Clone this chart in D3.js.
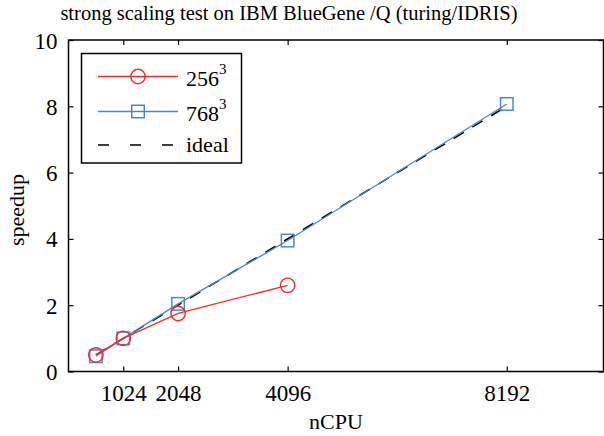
<!DOCTYPE html>
<html><head><meta charset="utf-8">
<script src="https://cdn.jsdelivr.net/npm/d3@7"></script>
<style>body{margin:0;background:#fff;} text{font-family:"Liberation Serif","Times New Roman",serif;fill:#000;}</style>
</head><body><svg id="c" width="604" height="436"></svg>
<script>
const ncpu256 = [512, 1024, 2048, 4096];
const speedup256 = [0.5, 1.0, 1.75, 2.6];
const ncpu768 = [512, 1024, 2048, 4096, 8192];
const speedup768 = [0.46, 1.0, 2.04, 3.95, 8.07];
const ncpuIdeal = [512, 8192];
const speedupIdeal = [0.5, 8];
const xTicks = [1024, 2048, 4096, 8192];
const yTicks = [0, 2, 4, 6, 8, 10];
const seriesNames = ["256", "768", "ideal"];

const red = "#ee2c2c", blue = "#4a89c8";
const svg = d3.select("#c");
const L = 68.5, R = 603.5, T = 40, B = 371.5;
const x = d3.scaleLinear().domain([0, 10000]).range([L, R]);
const y = d3.scaleLinear().domain([0, 10]).range([B, T]);

svg.append("rect").attr("x", L).attr("y", T).attr("width", R - L).attr("height", B - T)
  .attr("fill", "none").attr("stroke", "#000").attr("stroke-width", 1.5);

const tl = 5;
const gx = svg.append("g").attr("transform", `translate(0,${B})`)
  .call(d3.axisBottom(x).tickValues(xTicks).tickSize(-tl).tickPadding(13).tickFormat(d3.format("d")));
const gxt = svg.append("g").attr("transform", `translate(0,${T})`)
  .call(d3.axisTop(x).tickValues(xTicks).tickSize(-tl).tickFormat(""));
const gy = svg.append("g").attr("transform", `translate(${L},0)`)
  .call(d3.axisLeft(y).tickValues(yTicks).tickSize(-tl).tickPadding(11).tickFormat(d3.format("d")));
const gyr = svg.append("g").attr("transform", `translate(${R},0)`)
  .call(d3.axisRight(y).tickValues(yTicks).tickSize(-tl).tickFormat(""));
[gx, gxt, gy, gyr].forEach(g => {
  g.select(".domain").remove();
  g.selectAll(".tick line").attr("stroke", "#000").attr("stroke-width", 1.2);
  g.selectAll("text").attr("font-size", 23).attr("font-family", "Liberation Serif").attr("fill", "#000");
});
gy.selectAll("text").attr("dy", "0.35em");

const line = d3.line().x(d => x(d[0])).y(d => y(d[1]));
const d256 = ncpu256.map((v, i) => [v, speedup256[i]]);
const d768 = ncpu768.map((v, i) => [v, speedup768[i]]);
const dId = ncpuIdeal.map((v, i) => [v, speedupIdeal[i]]);

svg.append("path").datum(dId).attr("d", line).attr("fill", "none").attr("stroke", "#000")
  .attr("stroke-width", 1.6).attr("stroke-dasharray", "12,10");
svg.append("path").datum(d768).attr("d", line).attr("fill", "none").attr("stroke", blue).attr("stroke-width", 1.3);
svg.append("path").datum(d256).attr("d", line).attr("fill", "none").attr("stroke", red).attr("stroke-width", 1.3);

const sq = 12.5;
svg.selectAll(".sq").data(d768).enter().append("rect")
  .attr("x", d => x(d[0]) - sq / 2).attr("y", d => y(d[1]) - sq / 2)
  .attr("width", sq).attr("height", sq).attr("fill", "none").attr("stroke", blue).attr("stroke-width", 1.5);
svg.selectAll(".ci").data(d256).enter().append("circle")
  .attr("cx", d => x(d[0])).attr("cy", d => y(d[1])).attr("r", 7.2)
  .attr("fill", "none").attr("stroke", red).attr("stroke-width", 1.4);

const lg = svg.append("g");
lg.append("rect").attr("x", 81.5).attr("y", 53.5).attr("width", 160).attr("height", 109.5)
  .attr("fill", "#fff").attr("stroke", "#000").attr("stroke-width", 1.5);
const rows = [76.5, 111.5, 145];
lg.append("line").attr("x1", 98).attr("x2", 178).attr("y1", rows[0]).attr("y2", rows[0]).attr("stroke", red).attr("stroke-width", 1.3);
lg.append("circle").attr("cx", 138).attr("cy", rows[0]).attr("r", 7.2).attr("fill", "none").attr("stroke", red).attr("stroke-width", 1.4);
lg.append("line").attr("x1", 98).attr("x2", 178).attr("y1", rows[1]).attr("y2", rows[1]).attr("stroke", blue).attr("stroke-width", 1.3);
lg.append("rect").attr("x", 138 - sq / 2).attr("y", rows[1] - sq / 2).attr("width", sq).attr("height", sq).attr("fill", "none").attr("stroke", blue).attr("stroke-width", 1.5);
lg.append("line").attr("x1", 98).attr("x2", 178).attr("y1", rows[2]).attr("y2", rows[2]).attr("stroke", "#000").attr("stroke-width", 1.6).attr("stroke-dasharray", "11,21");
[0, 1].forEach(i => {
  const t = lg.append("text").attr("x", 186).attr("y", rows[i] + 9).attr("font-size", 22);
  t.append("tspan").text(seriesNames[i]);
  t.append("tspan").attr("font-size", 15).attr("dy", -12).text("3");
});
lg.append("text").attr("x", 186).attr("y", rows[2] + 7).attr("font-size", 22).text(seriesNames[2]);

svg.append("text").attr("x", 289).attr("y", 20).attr("text-anchor", "middle").attr("font-size", 20.5)
  .text("strong scaling test on IBM BlueGene /Q (turing/IDRIS)");
svg.append("text").attr("x", 336).attr("y", 429).attr("text-anchor", "middle").attr("font-size", 22).text("nCPU");
svg.append("text").attr("transform", "translate(24,210) rotate(-90)").attr("text-anchor", "middle").attr("font-size", 22).text("speedup");
</script></body></html>
